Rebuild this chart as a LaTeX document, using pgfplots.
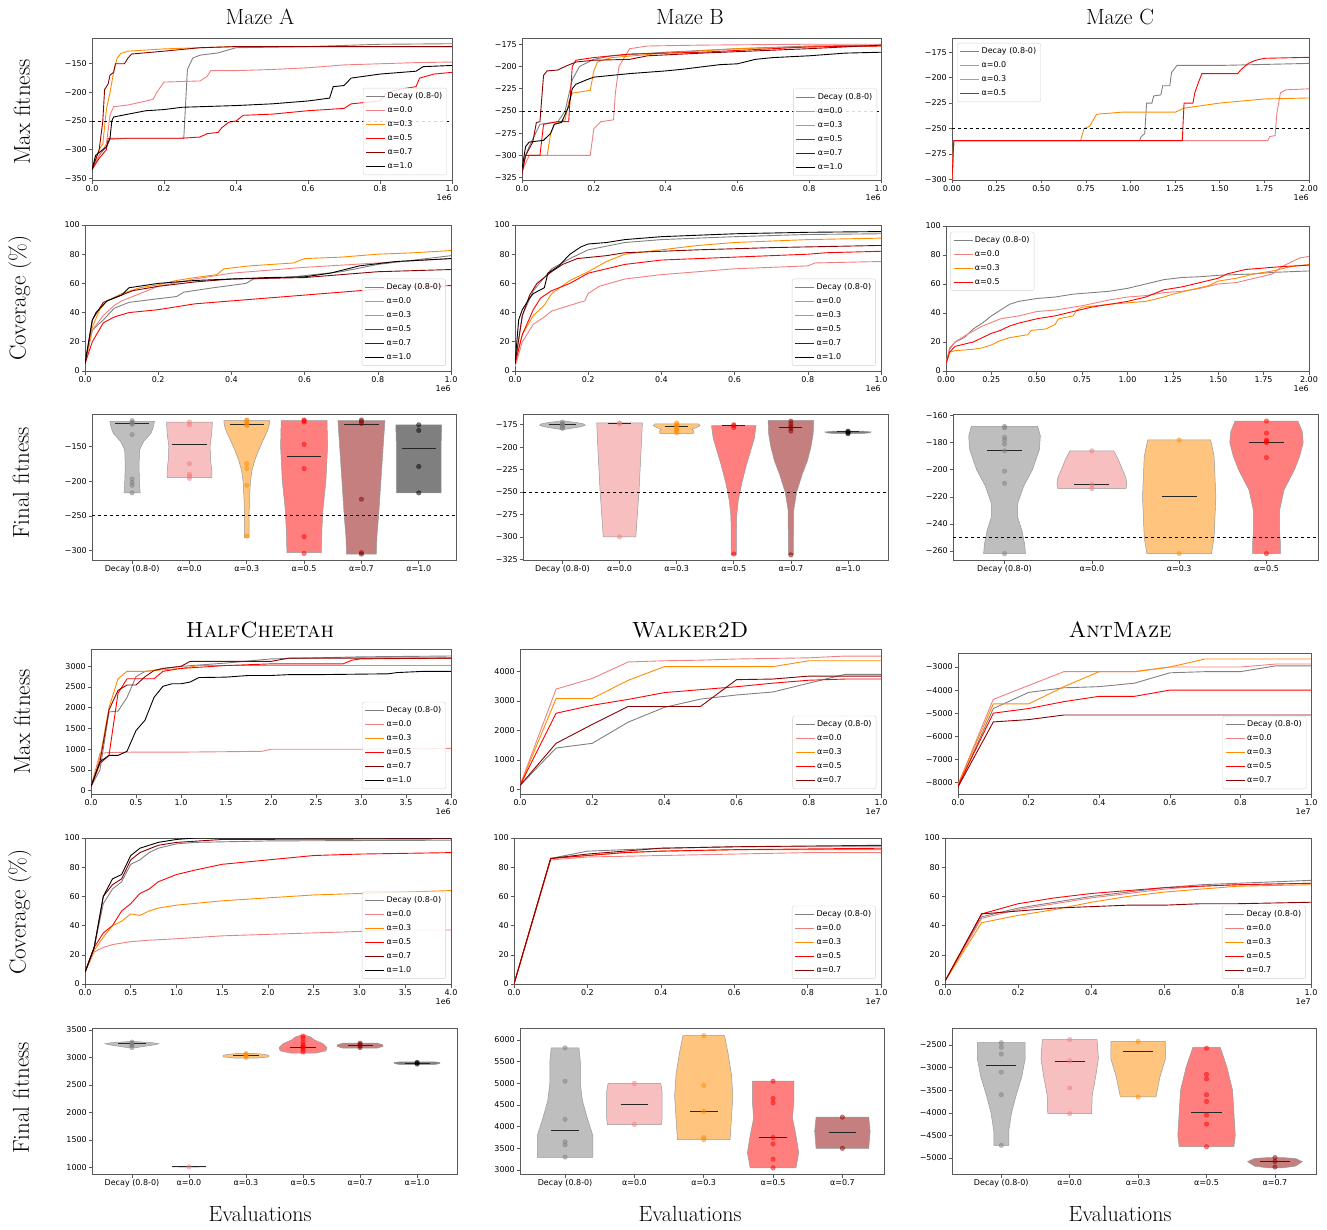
\documentclass[border=0pt]{standalone}
\usepackage{fontspec}
\usepackage{pgfplots}
\pgfplotsset{compat=1.18}
\newfontfamily\djv{DejaVu Sans}
\newcommand\tf{\djv\fontsize{8}{9.6}\selectfont}
\newcommand\ttl{\fontsize{22}{26}\selectfont}
\newcommand\ylab{\fontsize{23}{27}\selectfont}
\definecolor{cdec}{HTML}{808080}
\definecolor{ca0}{HTML}{F08080}
\definecolor{ca3}{HTML}{FF8C00}
\definecolor{ca5}{HTML}{FF0000}
\definecolor{ca7}{HTML}{8B0000}
\definecolor{ca10}{HTML}{000000}
\definecolor{vdec}{HTML}{BEBEBE}
\definecolor{va0}{HTML}{F7BFBF}
\definecolor{va3}{HTML}{FFC57F}
\definecolor{va5}{HTML}{FF7F7F}
\definecolor{va7}{HTML}{C57F7F}
\definecolor{va10}{HTML}{7F7F7F}
\pgfplotsset{
  base/.style={scale only axis, anchor=north west, tick align=outside, clip mode=individual,
    xtick pos=bottom, ytick pos=left, major tick length=3.5pt,
    axis line style={black!65, line width=0.6pt}, tick style={black!65, line width=0.6pt},
    ticklabel style={font=\tf}, xticklabel style={inner sep=1.5pt}, yticklabel style={inner sep=1.5pt},
    legend cell align=left,
    legend style={font=\tf, draw=black!18, rounded corners=2pt, fill=white, fill opacity=0.85, text opacity=1, inner sep=2.5pt, row sep=2.6pt},
    legend image code/.code={\draw[##1, opacity=1] (0pt,0pt) -- (19pt,0pt);}},
  sDec/.style={color=cdec, line width=0.9pt},
  sA0/.style={color=ca0, line width=0.9pt},
  sA3/.style={color=ca3, line width=0.9pt},
  sA5/.style={color=ca5, line width=0.9pt},
  sA7/.style={color=ca7, line width=0.9pt},
  sA10/.style={color=ca10, line width=0.9pt},
  thr/.style={black, dashed, line width=0.8pt, forget plot},
}
% #1 center, #2 fill colour, #3 closed outline rows (y d), d = offset from center
\newcommand{\violin}[3]{\addplot[fill=#2, draw=black!40, line width=0.5pt, forget plot] table[row sep=\\, x expr={#1+(\thisrow{d})}, y=y]{y d\\ #3};}
% #1 center, #2 half width, #3 median
\newcommand{\med}[3]{\addplot[black!85, line width=1pt, forget plot] table[row sep=\\, x expr={#1+(\thisrow{d})}, y expr={#3}]{d\\ -#2\\ #2\\};}
% #1 colour, #2 coordinates
\newcommand{\pts}[2]{\addplot[only marks, mark=*, mark size=2.3pt, color=#1, opacity=0.5, forget plot] coordinates {#2};}
\newcommand{\expo}[1]{\node[anchor=north east, font=\tf, inner sep=0pt, yshift=-14pt] at (rel axis cs:1,0) {#1};}
\begin{document}
\begin{tikzpicture}
\path[use as bounding box] (0pt,0pt) rectangle (1327pt,-1230pt);
% ---------- titles and labels
\node[font=\ttl] at (260pt,-17pt) {Maze A};
\node[font=\ttl] at (690pt,-17pt) {Maze B};
\node[font=\ttl] at (1120pt,-17pt) {Maze C};
\node[font=\ttl] at (260pt,-630pt) {\textsc{HalfCheetah}};
\node[font=\ttl] at (690pt,-630pt) {\textsc{Walker2D}};
\node[font=\ttl] at (1120pt,-630pt) {\textsc{AntMaze}};
\node[font=\ttl] at (260pt,-1214pt) {Evaluations};
\node[font=\ttl] at (690pt,-1214pt) {Evaluations};
\node[font=\ttl] at (1120pt,-1214pt) {Evaluations};
\node[font=\ylab, rotate=90] at (22pt,-112pt) {Max fitness};
\node[font=\ylab, rotate=90] at (20pt,-298pt) {Coverage (\%)};
\node[font=\ylab, rotate=90] at (21pt,-483pt) {Final fitness};
\node[font=\ylab, rotate=90] at (22pt,-722pt) {Max fitness};
\node[font=\ylab, rotate=90] at (20pt,-912pt) {Coverage (\%)};
\node[font=\ylab, rotate=90] at (21pt,-1098pt) {Final fitness};

% ================= Row 1: Max fitness mazes
\begin{axis}[base, at={(92pt,-38pt)}, width=360pt, height=142pt,
  xmin=0, xmax=1, ymin=-353, ymax=-105,
  xtick={0,0.2,0.4,0.6,0.8,1}, xticklabels={0.0,0.2,0.4,0.6,0.8,1.0},
  ytick={-350,-300,-250,-200,-150}, yticklabels={−350,−300,−250,−200,−150},
  legend style={at={(0.986,0.035)}, anchor=south east}]
\addplot[sDec] coordinates {(0,-335)(0.02,-310)(0.04,-295)(0.05,-282)(0.1,-280)(0.255,-280)(0.26,-220)(0.265,-160)(0.28,-140)(0.3,-135)(0.35,-131)(0.4,-122)(0.6,-120)(0.8,-116)(1,-115)};
\addlegendentry{Decay (0.8-0)}
\addplot[sA0] coordinates {(0,-335)(0.02,-310)(0.04,-290)(0.05,-240)(0.06,-225)(0.1,-222)(0.15,-215)(0.17,-212)(0.18,-200)(0.2,-182)(0.3,-180)(0.32,-172)(0.33,-162)(0.4,-162)(0.5,-160)(0.6,-157)(0.7,-152)(0.8,-150)(0.9,-148)(1,-147)};
\addlegendentry{α=0.0}
\addplot[sA3] coordinates {(0,-335)(0.02,-300)(0.03,-290)(0.04,-230)(0.05,-200)(0.06,-165)(0.07,-140)(0.08,-132)(0.1,-128)(0.2,-124)(0.3,-122)(0.4,-120)(1,-120)};
\addlegendentry{α=0.3}
\addplot[sA5] coordinates {(0,-335)(0.02,-315)(0.04,-300)(0.045,-280)(0.25,-280)(0.3,-278)(0.32,-272)(0.35,-270)(0.36,-262)(0.38,-252)(0.4,-250)(0.42,-240)(0.5,-238)(0.55,-235)(0.6,-232)(0.7,-228)(0.72,-220)(0.8,-215)(0.82,-200)(0.85,-195)(0.9,-190)(0.91,-175)(0.95,-168)(1,-165)};
\addlegendentry{α=0.5}
\addplot[sA7] coordinates {(0,-335)(0.02,-300)(0.03,-250)(0.035,-195)(0.045,-185)(0.05,-170)(0.06,-165)(0.065,-150)(0.09,-150)(0.1,-140)(0.11,-133)(0.2,-128)(0.3,-122)(0.4,-120)(1,-120)};
\addlegendentry{α=0.7}
\addplot[sA10] coordinates {(0,-335)(0.01,-310)(0.03,-300)(0.04,-295)(0.05,-280)(0.055,-250)(0.06,-243)(0.1,-238)(0.15,-232)(0.2,-230)(0.25,-226)(0.4,-223)(0.5,-220)(0.6,-215)(0.66,-210)(0.67,-190)(0.7,-188)(0.72,-175)(0.8,-168)(0.9,-163)(0.92,-155)(1,-153)};
\addlegendentry{α=1.0}
\addplot[thr] coordinates {(0,-250)(1,-250)};
\expo{1e6}
\end{axis}

\begin{axis}[base, at={(522pt,-38pt)}, width=359pt, height=142pt,
  xmin=0, xmax=1, ymin=-327.6, ymax=-168,
  xtick={0,0.2,0.4,0.6,0.8,1}, xticklabels={0.0,0.2,0.4,0.6,0.8,1.0},
  ytick={-325,-300,-275,-250,-225,-200,-175}, yticklabels={−325,−300,−275,−250,−225,−200,−175},
  legend style={at={(0.989,0.03)}, anchor=south east}]
\addplot[sDec] coordinates {(0,-310)(0.02,-290)(0.05,-265)(0.1,-262)(0.12,-250)(0.14,-215)(0.16,-200)(0.2,-192)(0.25,-188)(0.4,-184)(0.6,-180)(0.8,-177)(1,-176)};
\addlegendentry{Decay (0.8-0)}
\addplot[sA0] coordinates {(0,-318)(0.02,-300)(0.19,-300)(0.2,-270)(0.22,-262)(0.255,-260)(0.26,-230)(0.27,-200)(0.3,-180)(0.35,-177)(0.5,-176)(0.8,-175)(1,-175)};
\addlegendentry{α=0.0}
\addplot[sA3] coordinates {(0,-315)(0.01,-300)(0.07,-300)(0.08,-275)(0.09,-265)(0.12,-260)(0.13,-240)(0.14,-230)(0.17,-228)(0.19,-227)(0.2,-205)(0.21,-195)(0.25,-190)(0.4,-185)(0.6,-180)(0.8,-178)(1,-177)};
\addlegendentry{α=0.3}
\addplot[sA5] coordinates {(0,-320)(0.01,-300)(0.05,-300)(0.06,-265)(0.1,-262)(0.13,-262)(0.14,-200)(0.15,-193)(0.2,-190)(0.3,-186)(0.5,-184)(0.7,-180)(0.8,-178)(1,-177)};
\addlegendentry{α=0.5}
\addplot[sA7] coordinates {(0,-320)(0.01,-300)(0.03,-285)(0.04,-263)(0.05,-262)(0.06,-210)(0.07,-205)(0.1,-204)(0.12,-200)(0.15,-195)(0.2,-193)(0.3,-192)(0.35,-188)(0.5,-185)(0.8,-180)(1,-176)};
\addlegendentry{α=0.7}
\addplot[sA10] coordinates {(0,-315)(0.01,-290)(0.02,-285)(0.06,-283)(0.08,-275)(0.09,-265)(0.11,-263)(0.13,-245)(0.14,-225)(0.15,-220)(0.18,-215)(0.2,-212)(0.25,-210)(0.3,-208)(0.4,-205)(0.45,-203)(0.55,-198)(0.6,-197)(0.65,-192)(0.7,-190)(0.8,-188)(0.9,-185)(1,-184)};
\addlegendentry{α=1.0}
\addplot[thr] coordinates {(0,-250)(1,-250)};
\expo{1e6}
\end{axis}

\begin{axis}[base, at={(952pt,-38pt)}, width=357pt, height=142pt,
  xmin=0, xmax=2, ymin=-300.7, ymax=-161,
  xtick={0,0.25,0.5,0.75,1,1.25,1.5,1.75,2}, xticklabels={0.00,0.25,0.50,0.75,1.00,1.25,1.50,1.75,2.00},
  ytick={-300,-275,-250,-225,-200,-175}, yticklabels={−300,−275,−250,−225,−200,−175},
  legend style={at={(0.014,0.965)}, anchor=north west}]
\addplot[sDec] coordinates {(0,-300)(0.01,-262)(1.05,-262)(1.06,-258)(1.08,-255)(1.09,-225)(1.12,-225)(1.13,-218)(1.17,-217)(1.18,-208)(1.22,-208)(1.23,-195)(1.26,-188)(1.5,-188)(2,-186)};
\addlegendentry{Decay (0.8-0)}
\addplot[sA0] coordinates {(0,-300)(0.01,-262)(1.77,-262)(1.78,-258)(1.81,-257)(1.82,-235)(1.84,-215)(1.87,-212)(2,-211)};
\addlegendentry{α=0.0}
\addplot[sA3] coordinates {(0,-300)(0.01,-262)(0.72,-262)(0.74,-250)(0.77,-248)(0.79,-242)(0.81,-236)(0.95,-234)(1.25,-234)(1.3,-230)(1.5,-225)(1.75,-221)(2,-220)};
\addlegendentry{α=0.3}
\addplot[sA5] coordinates {(0,-300)(0.01,-262)(1.29,-262)(1.3,-225)(1.35,-225)(1.36,-215)(1.38,-205)(1.4,-196)(1.6,-196)(1.62,-192)(1.66,-186)(1.7,-183)(1.75,-181)(2,-180)};
\addlegendentry{α=0.5}
\addplot[thr] coordinates {(0,-250)(2,-250)};
\expo{1e6}
\end{axis}

% ================= Row 2: Coverage mazes
\begin{axis}[base, at={(85pt,-225pt)}, width=366pt, height=146pt,
  xmin=0, xmax=1, ymin=0, ymax=100,
  xtick={0,0.2,0.4,0.6,0.8,1}, xticklabels={0.0,0.2,0.4,0.6,0.8,1.0},
  ytick={0,20,40,60,80,100}, yticklabels={0,20,40,60,80,100},
  legend style={at={(0.986,0.035)}, anchor=south east}]
\addplot[sDec] coordinates {(0,5)(0.02,28)(0.05,35)(0.08,43)(0.12,47)(0.2,49.5)(0.25,51)(0.27,54)(0.35,57)(0.44,60)(0.46,63)(0.55,64)(0.7,68)(0.8,73)(0.9,76)(1,79)};
\addlegendentry{Decay (0.8-0)}
\addplot[sA0] coordinates {(0,5)(0.02,28)(0.05,38)(0.08,45)(0.1,48)(0.15,53)(0.2,58)(0.3,63)(0.4,67)(0.5,69)(0.6,71)(0.8,74)(1,77)};
\addlegendentry{α=0.0}
\addplot[sA3] coordinates {(0,5)(0.02,30)(0.04,42)(0.06,48)(0.1,53)(0.15,57)(0.2,59)(0.25,62)(0.3,64)(0.36,66)(0.37,68)(0.38,70)(0.45,72)(0.57,74)(0.6,77)(0.7,78)(0.8,80)(0.9,81)(1,82.5)};
\addlegendentry{α=0.3}
\addplot[sA5] coordinates {(0,5)(0.02,20)(0.05,33)(0.08,37)(0.12,40)(0.2,42)(0.25,44)(0.3,46)(0.4,48)(0.5,50)(0.6,52)(0.7,54)(0.8,56)(0.9,57.5)(1,58.5)};
\addlegendentry{α=0.5}
\addplot[sA7] coordinates {(0,5)(0.02,35)(0.05,47)(0.1,52)(0.13,55)(0.2,58)(0.3,61)(0.4,63)(0.6,64)(0.7,66)(0.8,68)(1,69.5)};
\addlegendentry{α=0.7}
\addplot[sA10] coordinates {(0,5)(0.02,35)(0.03,40)(0.06,48)(0.1,52)(0.12,57)(0.2,60)(0.3,62)(0.4,63)(0.5,64)(0.6,64.5)(0.67,67)(0.75,72)(0.85,75)(1,77)};
\addlegendentry{α=1.0}
\expo{1e6}
\end{axis}

\begin{axis}[base, at={(515pt,-225pt)}, width=366pt, height=146pt,
  xmin=0, xmax=1, ymin=0, ymax=100,
  xtick={0,0.2,0.4,0.6,0.8,1}, xticklabels={0.0,0.2,0.4,0.6,0.8,1.0},
  ytick={0,20,40,60,80,100}, yticklabels={0,20,40,60,80,100},
  legend style={at={(0.986,0.035)}, anchor=south east}]
\addplot[sDec] coordinates {(0,5)(0.02,38)(0.05,55)(0.1,70)(0.15,77)(0.2,83)(0.3,88)(0.4,90)(0.6,92)(0.8,93.5)(1,94)};
\addlegendentry{Decay (0.8-0)}
\addplot[sA0] coordinates {(0,3)(0.02,20)(0.05,32)(0.08,37)(0.1,41)(0.15,45)(0.19,48)(0.2,53)(0.23,58)(0.3,63)(0.4,66)(0.5,68)(0.6,70)(0.8,72)(0.82,74)(1,75)};
\addlegendentry{α=0.0}
\addplot[sA3] coordinates {(0,5)(0.02,25)(0.05,38)(0.08,45)(0.1,53)(0.15,62)(0.2,68)(0.25,75)(0.3,80)(0.4,83)(0.5,86)(0.6,88)(0.8,90)(1,91)};
\addlegendentry{α=0.3}
\addplot[sA5] coordinates {(0,5)(0.02,25)(0.05,42)(0.07,50)(0.1,55)(0.15,60)(0.2,67)(0.25,70)(0.3,73)(0.4,76)(0.6,78)(0.8,80)(0.85,81)(1,82)};
\addlegendentry{α=0.5}
\addplot[sA7] coordinates {(0,5)(0.02,38)(0.04,52)(0.06,60)(0.1,68)(0.13,73)(0.15,75)(0.17,77)(0.25,79)(0.3,81)(0.5,83)(0.7,84.5)(1,86)};
\addlegendentry{α=0.7}
\addplot[sA10] coordinates {(0,5)(0.01,35)(0.02,42)(0.04,50)(0.05,53)(0.08,57)(0.09,67)(0.12,72)(0.15,80)(0.18,85)(0.2,87)(0.25,88)(0.3,90)(0.4,92)(0.6,94)(0.8,95)(1,95.5)};
\addlegendentry{α=1.0}
\expo{1e6}
\end{axis}

\begin{axis}[base, at={(946pt,-226pt)}, width=363pt, height=145pt,
  xmin=0, xmax=2, ymin=0, ymax=100,
  xtick={0,0.25,0.5,0.75,1,1.25,1.5,1.75,2}, xticklabels={0.00,0.25,0.50,0.75,1.00,1.25,1.50,1.75,2.00},
  ytick={0,20,40,60,80,100}, yticklabels={0,20,40,60,80,100},
  legend style={at={(0.012,0.96)}, anchor=north west}]
\addplot[sDec] coordinates {(0,5)(0.02,15)(0.05,20)(0.1,23)(0.15,29)(0.2,33)(0.25,38)(0.3,42)(0.35,46)(0.4,48)(0.5,50)(0.6,51)(0.7,53)(0.8,54)(0.9,55)(1,57)(1.1,60)(1.2,63)(1.3,64.5)(1.4,65)(1.5,66)(1.7,67)(1.8,68)(2,69)};
\addlegendentry{Decay (0.8-0)}
\addplot[sA0] coordinates {(0,5)(0.02,16)(0.05,20)(0.1,24)(0.2,31)(0.3,36)(0.4,38)(0.5,41)(0.6,42)(0.75,45)(0.9,49)(1,51)(1.1,52)(1.2,54)(1.3,55)(1.4,57)(1.5,60)(1.6,61)(1.7,64)(1.8,67)(1.85,72)(1.9,75)(1.95,78)(2,79)};
\addlegendentry{α=0.0}
\addplot[sA3] coordinates {(0,5)(0.02,13)(0.05,14)(0.15,15)(0.2,16)(0.25,18)(0.3,21)(0.35,23)(0.45,25)(0.47,28)(0.55,29)(0.6,32)(0.62,36)(0.7,38)(0.72,42)(0.75,44)(0.9,46)(1,47)(1.1,48)(1.2,51)(1.25,53)(1.35,56)(1.45,59)(1.5,62)(1.6,64)(1.7,67)(1.8,69)(1.9,72)(2,73.5)};
\addlegendentry{α=0.3}
\addplot[sA5] coordinates {(0,5)(0.02,13)(0.05,17)(0.15,20)(0.2,23)(0.25,26)(0.3,28)(0.35,31)(0.4,33)(0.5,36)(0.6,38)(0.7,41)(0.8,44)(0.9,46)(1,48)(1.1,51)(1.2,56)(1.3,58)(1.4,61)(1.5,64)(1.55,67)(1.65,70)(1.75,71)(1.85,72)(2,73)};
\addlegendentry{α=0.5}
\expo{1e6}
\end{axis}

% ================= Row 3: Final fitness mazes
\begin{axis}[base, at={(92pt,-414pt)}, width=364pt, height=146pt,
  xmin=-0.7, xmax=5.65, ymin=-313.5, ymax=-103.4,
  xtick={0,1,2,3,4,5}, xticklabels={Decay (0.8-0),α=0.0,α=0.3,α=0.5,α=0.7,α=1.0},
  ytick={-300,-250,-200,-150}, yticklabels={−300,−250,−200,−150}]
\violin{0}{vdec}{-114 -0.39\\ -122 -0.37\\ -131 -0.33\\ -143 -0.2\\ -155 -0.13\\ -179 -0.12\\ -203 -0.13\\ -217 -0.14\\ -217 0.14\\ -203 0.13\\ -179 0.12\\ -155 0.13\\ -143 0.2\\ -131 0.33\\ -122 0.37\\ -114 0.39\\ -114 -0.39\\}
\violin{1}{va0}{-115 -0.40\\ -130 -0.39\\ -150 -0.36\\ -170 -0.37\\ -185 -0.39\\ -195 -0.39\\ -195 0.39\\ -185 0.39\\ -170 0.37\\ -150 0.36\\ -130 0.39\\ -115 0.40\\ -115 -0.40\\}
\violin{2}{va3}{-113 -0.40\\ -120 -0.39\\ -130 -0.35\\ -140 -0.29\\ -155 -0.21\\ -170 -0.14\\ -185 -0.09\\ -200 -0.065\\ -230 -0.045\\ -260 -0.04\\ -281 -0.04\\ -281 0.04\\ -260 0.04\\ -230 0.045\\ -200 0.065\\ -185 0.09\\ -170 0.14\\ -155 0.21\\ -140 0.29\\ -130 0.35\\ -120 0.39\\ -113 0.40\\ -113 -0.40\\}
\violin{3}{va5}{-113 -0.40\\ -150 -0.41\\ -200 -0.38\\ -240 -0.33\\ -270 -0.31\\ -303 -0.3\\ -303 0.3\\ -270 0.31\\ -240 0.33\\ -200 0.38\\ -150 0.41\\ -113 0.40\\ -113 -0.40\\}
\violin{4}{va7}{-113 -0.41\\ -150 -0.38\\ -200 -0.34\\ -250 -0.3\\ -280 -0.27\\ -305 -0.26\\ -305 0.26\\ -280 0.27\\ -250 0.3\\ -200 0.34\\ -150 0.38\\ -113 0.41\\ -113 -0.41\\}
\violin{5}{va10}{-119 -0.40\\ -150 -0.39\\ -180 -0.39\\ -217 -0.39\\ -217 0.39\\ -180 0.39\\ -150 0.39\\ -119 0.40\\ -119 -0.40\\}
\addplot[thr] coordinates {(-0.7,-250)(5.65,-250)};
\med{0}{0.3}{-117}\med{1}{0.3}{-147}\med{2}{0.3}{-118}\med{3}{0.3}{-164}\med{4}{0.3}{-118}\med{5}{0.3}{-153}
\pts{cdec}{(0,-113)(0,-115)(0,-117)(0,-118)(0,-133)(0,-197)(0,-202)(0,-206)(0,-217)}
\pts{ca0}{(1,-115)(1,-119)(1,-175)(1,-190)(1,-193)(1,-196)}
\pts{ca3}{(2,-112)(2,-113)(2,-115)(2,-118)(2,-120)(2,-175)(2,-182)(2,-206)(2,-279)}
\pts{ca5}{(3,-112)(3,-113)(3,-115)(3,-147)(3,-182)(3,-280)(3,-304)}
\pts{ca7}{(4,-112)(4,-114)(4,-117)(4,-226)(4,-303)(4,-305)}
\pts{ca10}{(5,-119)(5,-127)(5,-179)(5,-217)}
\end{axis}

\begin{axis}[base, at={(523pt,-414pt)}, width=365pt, height=146pt,
  xmin=-0.69, xmax=5.7, ymin=-325.7, ymax=-163,
  xtick={0,1,2,3,4,5}, xticklabels={Decay (0.8-0),α=0.0,α=0.3,α=0.5,α=0.7,α=1.0},
  ytick={-325,-300,-275,-250,-225,-200,-175}, yticklabels={−325,−300,−275,−250,−225,−200,−175}]
\violin{0}{vdec}{-171 -0.05\\ -172.5 -0.25\\ -174 -0.37\\ -175.5 -0.4\\ -177 -0.34\\ -178.5 -0.2\\ -180 -0.05\\ -180 0.05\\ -178.5 0.2\\ -177 0.34\\ -175.5 0.4\\ -174 0.37\\ -172.5 0.25\\ -171 0.05\\ -171 -0.05\\}
\violin{1}{va0}{-173 -0.40\\ -200 -0.38\\ -250 -0.34\\ -300 -0.285\\ -300 0.285\\ -250 0.34\\ -200 0.38\\ -173 0.40\\ -173 -0.40\\}
\violin{2}{va3}{-174 -0.38\\ -176 -0.41\\ -178 -0.35\\ -180 -0.27\\ -182 -0.3\\ -184 -0.3\\ -185 -0.27\\ -185 0.27\\ -184 0.3\\ -182 0.3\\ -180 0.27\\ -178 0.35\\ -176 0.41\\ -174 0.38\\ -174 -0.38\\}
\violin{3}{va5}{-176 -0.39\\ -190 -0.36\\ -203 -0.3\\ -220 -0.22\\ -240 -0.14\\ -259 -0.08\\ -277 -0.05\\ -300 -0.045\\ -320 -0.045\\ -320 0.045\\ -300 0.045\\ -277 0.05\\ -259 0.08\\ -240 0.14\\ -220 0.22\\ -203 0.3\\ -190 0.36\\ -176 0.39\\ -176 -0.39\\}
\violin{4}{va7}{-170 -0.40\\ -185 -0.39\\ -200 -0.35\\ -215 -0.29\\ -230 -0.2\\ -250 -0.1\\ -270 -0.05\\ -300 -0.045\\ -320 -0.045\\ -320 0.045\\ -300 0.045\\ -270 0.05\\ -250 0.1\\ -230 0.2\\ -215 0.29\\ -200 0.35\\ -185 0.39\\ -170 0.40\\ -170 -0.40\\}
\violin{5}{va10}{-182 -0.25\\ -183 -0.4\\ -184 -0.38\\ -185 -0.2\\ -185 0.2\\ -184 0.38\\ -183 0.4\\ -182 0.25\\ -182 -0.25\\}
\addplot[thr] coordinates {(-0.69,-250)(5.7,-250)};
\med{0}{0.24}{-175}\med{1}{0.2}{-174}\med{2}{0.2}{-177}\med{3}{0.2}{-176}\med{4}{0.2}{-178}\med{5}{0.2}{-183}
\pts{cdec}{(0,-172)(0,-174)(0,-175)(0,-176)(0,-178)(0,-179)}
\pts{ca0}{(1,-173)(1,-174)(1,-300)}
\pts{ca3}{(2,-173)(2,-175)(2,-176)(2,-178)(2,-180)(2,-182)(2,-184)}
\pts{ca5}{(3,-175)(3,-176)(3,-178)(3,-319)}
\pts{ca7}{(4,-171)(4,-174)(4,-177)(4,-179)(4,-182)(4,-320)}
\pts{ca10}{(5,-182)(5,-183)(5,-184)(5,-185)}
\end{axis}

\begin{axis}[base, at={(953pt,-414pt)}, width=365pt, height=146pt,
  xmin=-0.59, xmax=3.59, ymin=-266.7, ymax=-158.8,
  xtick={0,1,2,3}, xticklabels={Decay (0.8-0),α=0.0,α=0.3,α=0.5},
  ytick={-260,-240,-220,-200,-180,-160}, yticklabels={−260,−240,−220,−200,−180,−160}]
\violin{0}{vdec}{-168 -0.38\\ -175 -0.41\\ -185 -0.4\\ -200 -0.32\\ -212 -0.22\\ -225 -0.15\\ -235 -0.15\\ -245 -0.2\\ -255 -0.23\\ -262 -0.24\\ -262 0.24\\ -255 0.23\\ -245 0.2\\ -235 0.15\\ -225 0.15\\ -212 0.22\\ -200 0.32\\ -185 0.4\\ -175 0.41\\ -168 0.38\\ -168 -0.38\\}
\violin{1}{va0}{-186 -0.25\\ -192 -0.3\\ -200 -0.35\\ -206 -0.39\\ -210 -0.4\\ -214 -0.39\\ -214 0.39\\ -210 0.4\\ -206 0.39\\ -200 0.35\\ -192 0.3\\ -186 0.25\\ -186 -0.25\\}
\violin{2}{va3}{-178 -0.36\\ -190 -0.4\\ -220 -0.42\\ -250 -0.4\\ -262 -0.37\\ -262 0.37\\ -250 0.4\\ -220 0.42\\ -190 0.4\\ -178 0.36\\ -178 -0.36\\}
\violin{3}{va5}{-164 -0.36\\ -172 -0.41\\ -180 -0.42\\ -190 -0.38\\ -200 -0.32\\ -215 -0.2\\ -230 -0.15\\ -245 -0.15\\ -255 -0.16\\ -262 -0.16\\ -262 0.16\\ -255 0.16\\ -245 0.15\\ -230 0.15\\ -215 0.2\\ -200 0.32\\ -190 0.38\\ -180 0.42\\ -172 0.41\\ -164 0.36\\ -164 -0.36\\}
\addplot[thr] coordinates {(-0.59,-250)(3.59,-250)};
\med{0}{0.2}{-186}\med{1}{0.2}{-211}\med{2}{0.2}{-220}\med{3}{0.2}{-180}
\pts{cdec}{(0,-168)(0,-169)(0,-176)(0,-178)(0,-181)(0,-186)(0,-201)(0,-210)(0,-262)}
\pts{ca0}{(1,-186)(1,-211)(1,-214)}
\pts{ca3}{(2,-178)(2,-262)}
\pts{ca5}{(3,-164)(3,-173)(3,-178)(3,-179)(3,-180)(3,-191)(3,-262)}
\end{axis}

% ================= Row 4: Max fitness robotics
\begin{axis}[base, at={(91pt,-649pt)}, width=360pt, height=145pt,
  xmin=0, xmax=4, ymin=-81, ymax=3419,
  xtick={0,0.5,1,1.5,2,2.5,3,3.5,4}, xticklabels={0.0,0.5,1.0,1.5,2.0,2.5,3.0,3.5,4.0},
  ytick={0,500,1000,1500,2000,2500,3000}, yticklabels={0,500,1000,1500,2000,2500,3000},
  legend style={at={(0.986,0.035)}, anchor=south east}]
\addplot[sDec] coordinates {(0,100)(0.1,500)(0.2,1900)(0.3,1920)(0.4,2250)(0.5,2750)(0.6,2880)(0.7,2900)(0.8,2950)(1,3000)(1.5,3080)(2,3180)(3,3230)(4,3250)};
\addlegendentry{Decay (0.8-0)}
\addplot[sA0] coordinates {(0,100)(0.1,900)(0.2,920)(0.5,930)(1,930)(1.5,940)(1.9,950)(2,1000)(3,1000)(4,1020)};
\addlegendentry{α=0.0}
\addplot[sA3] coordinates {(0,100)(0.1,800)(0.2,2000)(0.3,2700)(0.4,2880)(0.6,2880)(0.7,2900)(1,2950)(1.2,3020)(4,3020)};
\addlegendentry{α=0.3}
\addplot[sA5] coordinates {(0,100)(0.1,650)(0.2,850)(0.3,2350)(0.4,2700)(0.5,2700)(0.7,2700)(0.8,2880)(1,2950)(1.5,3020)(2,3060)(2.8,3060)(2.9,3150)(3,3180)(4,3200)};
\addlegendentry{α=0.5}
\addplot[sA7] coordinates {(0,100)(0.1,700)(0.2,1950)(0.3,2420)(0.4,2550)(0.5,2550)(0.6,2750)(0.7,2900)(0.8,2950)(1,3000)(1.1,3120)(2,3120)(2.2,3200)(4,3200)};
\addlegendentry{α=0.7}
\addplot[sA10] coordinates {(0,100)(0.1,700)(0.2,850)(0.3,850)(0.4,950)(0.5,1450)(0.6,1700)(0.7,2250)(0.8,2520)(0.9,2580)(1,2580)(1.1,2620)(1.2,2730)(1.5,2740)(1.75,2780)(2,2780)(2.2,2800)(2.5,2800)(3.3,2820)(3.4,2850)(3.7,2880)(4,2880)};
\addlegendentry{α=1.0}
\expo{1e6}
\end{axis}

\begin{axis}[base, at={(520pt,-649pt)}, width=361pt, height=145pt,
  xmin=0, xmax=1, ymin=-159, ymax=4759,
  xtick={0,0.2,0.4,0.6,0.8,1}, xticklabels={0.0,0.2,0.4,0.6,0.8,1.0},
  ytick={0,1000,2000,3000,4000}, yticklabels={0,1000,2000,3000,4000},
  legend style={at={(0.987,0.035)}, anchor=south east}]
\addplot[sDec] coordinates {(0,130)(0.1,1400)(0.2,1560)(0.3,2280)(0.4,2780)(0.5,3060)(0.6,3200)(0.7,3300)(0.8,3600)(0.9,3900)(1,3900)};
\addlegendentry{Decay (0.8-0)}
\addplot[sA0] coordinates {(0,130)(0.1,3400)(0.2,3760)(0.3,4320)(0.4,4360)(0.5,4380)(0.6,4420)(0.7,4440)(0.8,4460)(0.9,4520)(1,4520)};
\addlegendentry{α=0.0}
\addplot[sA3] coordinates {(0,130)(0.1,3080)(0.2,3080)(0.3,3700)(0.4,4160)(0.5,4160)(0.6,4160)(0.7,4160)(0.8,4360)(0.9,4360)(1,4360)};
\addlegendentry{α=0.3}
\addplot[sA5] coordinates {(0,130)(0.1,2580)(0.2,2850)(0.3,3050)(0.4,3280)(0.5,3380)(0.6,3480)(0.7,3600)(0.8,3700)(0.9,3740)(1,3740)};
\addlegendentry{α=0.5}
\addplot[sA7] coordinates {(0,130)(0.1,1560)(0.2,2200)(0.3,2810)(0.4,2810)(0.5,2810)(0.6,3720)(0.7,3740)(0.8,3840)(0.9,3840)(1,3840)};
\addlegendentry{α=0.7}
\expo{1e7}
\end{axis}

\begin{axis}[base, at={(958pt,-653pt)}, width=353pt, height=141pt,
  xmin=0, xmax=1, ymin=-8507, ymax=-2391,
  xtick={0,0.2,0.4,0.6,0.8,1}, xticklabels={0.0,0.2,0.4,0.6,0.8,1.0},
  ytick={-8000,-7000,-6000,-5000,-4000,-3000}, yticklabels={−8000,−7000,−6000,−5000,−4000,−3000},
  legend style={at={(0.987,0.035)}, anchor=south east}]
\addplot[sDec] coordinates {(0,-8200)(0.1,-4800)(0.2,-4100)(0.3,-3900)(0.4,-3850)(0.5,-3700)(0.6,-3250)(0.7,-3200)(0.8,-3200)(0.9,-2950)(1,-2950)};
\addlegendentry{Decay (0.8-0)}
\addplot[sA0] coordinates {(0,-8100)(0.1,-4400)(0.2,-3800)(0.3,-3200)(0.4,-3200)(0.5,-3200)(0.6,-3000)(0.7,-3000)(0.8,-3000)(0.9,-2870)(1,-2870)};
\addlegendentry{α=0.0}
\addplot[sA3] coordinates {(0,-8100)(0.1,-4600)(0.2,-4600)(0.3,-3850)(0.4,-3200)(0.5,-3200)(0.6,-3000)(0.7,-2650)(0.8,-2650)(0.9,-2650)(1,-2650)};
\addlegendentry{α=0.3}
\addplot[sA5] coordinates {(0,-8150)(0.1,-5000)(0.2,-4800)(0.3,-4500)(0.4,-4270)(0.5,-4270)(0.6,-4000)(0.7,-4000)(1,-4000)};
\addlegendentry{α=0.5}
\addplot[sA7] coordinates {(0,-8200)(0.1,-5380)(0.2,-5280)(0.3,-5080)(1,-5080)};
\addlegendentry{α=0.7}
\expo{1e7}
\end{axis}

% ================= Row 5: Coverage robotics
\begin{axis}[base, at={(85pt,-838pt)}, width=366pt, height=146pt,
  xmin=0, xmax=4, ymin=0, ymax=100,
  xtick={0,0.5,1,1.5,2,2.5,3,3.5,4}, xticklabels={0.0,0.5,1.0,1.5,2.0,2.5,3.0,3.5,4.0},
  ytick={0,20,40,60,80,100}, yticklabels={0,20,40,60,80,100},
  legend style={at={(0.986,0.035)}, anchor=south east}]
\addplot[sDec] coordinates {(0,8)(0.1,25)(0.2,55)(0.3,65)(0.4,70)(0.5,82)(0.6,85)(0.7,90)(0.8,93)(1,96)(1.2,97)(2,98)(4,98.5)};
\addlegendentry{Decay (0.8-0)}
\addplot[sA0] coordinates {(0,8)(0.1,22)(0.2,25)(0.3,27)(0.4,28)(0.5,29)(0.7,30)(1,31)(1.5,33)(2,34)(2.5,35)(3,36)(3.5,37)(4,37)};
\addlegendentry{α=0.0}
\addplot[sA3] coordinates {(0,8)(0.1,23)(0.2,32)(0.3,40)(0.4,43)(0.5,48)(0.6,47)(0.7,50)(0.8,52)(1,54)(1.5,57)(2,59)(2.5,61)(3,62)(3.5,63)(4,64)};
\addlegendentry{α=0.3}
\addplot[sA5] coordinates {(0,8)(0.1,25)(0.2,35)(0.3,40)(0.4,50)(0.5,55)(0.6,62)(0.7,65)(0.8,70)(1,75)(1.2,78)(1.5,82)(2,85)(2.5,88)(3,89)(4,90)};
\addlegendentry{α=0.5}
\addplot[sA7] coordinates {(0,8)(0.1,25)(0.2,60)(0.3,68)(0.4,72)(0.5,85)(0.6,90)(0.8,95)(1,97)(1.5,99)(4,99.5)};
\addlegendentry{α=0.7}
\addplot[sA10] coordinates {(0,8)(0.1,25)(0.2,60)(0.3,72)(0.4,75)(0.5,88)(0.6,93)(0.8,97)(1,99)(1.2,100)(4,100)};
\addlegendentry{α=1.0}
\expo{1e6}
\end{axis}

\begin{axis}[base, at={(514pt,-838pt)}, width=367pt, height=146pt,
  xmin=0, xmax=1, ymin=0, ymax=100,
  xtick={0,0.2,0.4,0.6,0.8,1}, xticklabels={0.0,0.2,0.4,0.6,0.8,1.0},
  ytick={0,20,40,60,80,100}, yticklabels={0,20,40,60,80,100},
  legend style={at={(0.986,0.035)}, anchor=south east}]
\addplot[sDec] coordinates {(0,0)(0.1,86)(0.2,91)(0.3,92)(0.4,93)(0.6,94)(1,94)};
\addlegendentry{Decay (0.8-0)}
\addplot[sA0] coordinates {(0,0)(0.1,85)(0.2,87)(0.4,88)(0.6,89)(0.8,90)(1,90)};
\addlegendentry{α=0.0}
\addplot[sA3] coordinates {(0,0)(0.1,86)(0.2,88)(0.3,90)(0.4,91)(0.6,92)(1,92)};
\addlegendentry{α=0.3}
\addplot[sA5] coordinates {(0,0)(0.1,86)(0.2,88)(0.3,90)(0.4,91)(0.6,92)(1,93)};
\addlegendentry{α=0.5}
\addplot[sA7] coordinates {(0,0)(0.1,86)(0.2,89)(0.3,91)(0.4,93)(0.6,94)(1,95)};
\addlegendentry{α=0.7}
\expo{1e7}
\end{axis}

\begin{axis}[base, at={(945pt,-838pt)}, width=366pt, height=146pt,
  xmin=0, xmax=1, ymin=0, ymax=100,
  xtick={0,0.2,0.4,0.6,0.8,1}, xticklabels={0.0,0.2,0.4,0.6,0.8,1.0},
  ytick={0,20,40,60,80,100}, yticklabels={0,20,40,60,80,100},
  legend style={at={(0.986,0.035)}, anchor=south east}]
\addplot[sDec] coordinates {(0,2)(0.1,46)(0.2,52)(0.3,56)(0.4,60)(0.5,63)(0.6,66)(0.7,68)(0.8,69)(0.9,70)(1,71)};
\addlegendentry{Decay (0.8-0)}
\addplot[sA0] coordinates {(0,2)(0.1,45)(0.2,51)(0.3,55)(0.4,59)(0.5,62)(0.6,65)(0.7,67)(0.8,68)(1,69)};
\addlegendentry{α=0.0}
\addplot[sA3] coordinates {(0,2)(0.1,42)(0.2,47)(0.3,51)(0.4,56)(0.5,60)(0.6,63)(0.7,65)(0.8,67)(1,68)};
\addlegendentry{α=0.3}
\addplot[sA5] coordinates {(0,2)(0.1,48)(0.2,55)(0.3,59)(0.4,62)(0.5,64)(0.6,66)(0.7,67)(0.8,68)(1,69)};
\addlegendentry{α=0.5}
\addplot[sA7] coordinates {(0,2)(0.1,48)(0.2,50)(0.3,52)(0.4,53)(0.5,54)(0.6,54)(0.7,55)(0.8,55)(1,56)};
\addlegendentry{α=0.7}
\expo{1e7}
\end{axis}

% ================= Row 6: Final fitness robotics
\begin{axis}[base, at={(92pt,-1028pt)}, width=365pt, height=146pt,
  xmin=-0.7, xmax=5.7, ymin=880, ymax=3536,
  xtick={0,1,2,3,4,5}, xticklabels={Decay (0.8-0),α=0.0,α=0.3,α=0.5,α=0.7,α=1.0},
  ytick={1000,1500,2000,2500,3000,3500}, yticklabels={1000,1500,2000,2500,3000,3500}]
\violin{0}{vdec}{3290 -0.05\\ 3270 -0.35\\ 3250 -0.47\\ 3230 -0.4\\ 3200 -0.2\\ 3175 -0.05\\ 3175 0.05\\ 3200 0.2\\ 3230 0.4\\ 3250 0.47\\ 3270 0.35\\ 3290 0.05\\ 3290 -0.05\\}
\violin{1}{va0}{1014 -0.1\\ 1010 -0.3\\ 1006 -0.1\\ 1006 0.1\\ 1010 0.3\\ 1014 0.1\\ 1014 -0.1\\}
\violin{2}{va3}{3075 -0.1\\ 3060 -0.3\\ 3040 -0.4\\ 3010 -0.4\\ 2990 -0.2\\ 2990 0.2\\ 3010 0.4\\ 3040 0.4\\ 3060 0.3\\ 3075 0.1\\ 3075 -0.1\\}
\violin{3}{va5}{3400 -0.05\\ 3370 -0.14\\ 3320 -0.2\\ 3250 -0.35\\ 3180 -0.42\\ 3120 -0.4\\ 3080 -0.22\\ 3080 0.22\\ 3120 0.4\\ 3180 0.42\\ 3250 0.35\\ 3320 0.2\\ 3370 0.14\\ 3400 0.05\\ 3400 -0.05\\}
\violin{4}{va7}{3260 -0.3\\ 3230 -0.4\\ 3200 -0.4\\ 3170 -0.3\\ 3170 0.3\\ 3200 0.4\\ 3230 0.4\\ 3260 0.3\\ 3260 -0.3\\}
\violin{5}{va10}{2920 -0.3\\ 2910 -0.4\\ 2890 -0.4\\ 2870 -0.3\\ 2870 0.3\\ 2890 0.4\\ 2910 0.4\\ 2920 0.3\\ 2920 -0.3\\}
\med{0}{0.24}{3250}\med{1}{0.3}{1010}\med{2}{0.22}{3030}\med{3}{0.22}{3190}\med{4}{0.22}{3210}\med{5}{0.22}{2895}
\pts{cdec}{(0,3180)(0,3220)(0,3240)(0,3260)(0,3280)}
\pts{ca0}{(1,1010)}
\pts{ca3}{(2,3000)(2,3030)(2,3050)(2,3070)}
\pts{ca5}{(3,3100)(3,3150)(3,3180)(3,3200)(3,3230)(3,3280)(3,3350)(3,3390)}
\pts{ca7}{(4,3180)(4,3210)(4,3240)(4,3260)}
\pts{ca10}{(5,2880)(5,2900)(5,2910)}
\end{axis}

\begin{axis}[base, at={(520pt,-1028pt)}, width=364pt, height=146pt,
  xmin=-0.65, xmax=4.6, ymin=2908, ymax=6277,
  xtick={0,1,2,3,4}, xticklabels={Decay (0.8-0),α=0.0,α=0.3,α=0.5,α=0.7},
  ytick={3000,3500,4000,4500,5000,5500,6000}, yticklabels={3000,3500,4000,4500,5000,5500,6000}]
\violin{0}{vdec}{5820 -0.2\\ 5500 -0.22\\ 5000 -0.22\\ 4600 -0.25\\ 4200 -0.32\\ 3800 -0.4\\ 3500 -0.4\\ 3290 -0.4\\ 3290 0.4\\ 3500 0.4\\ 3800 0.4\\ 4200 0.32\\ 4600 0.25\\ 5000 0.22\\ 5500 0.22\\ 5820 0.2\\ 5820 -0.2\\}
\violin{1}{va0}{5000 -0.38\\ 4800 -0.4\\ 4500 -0.4\\ 4200 -0.4\\ 4050 -0.39\\ 4050 0.39\\ 4200 0.4\\ 4500 0.4\\ 4800 0.4\\ 5000 0.38\\ 5000 -0.38\\}
\violin{2}{va3}{6100 -0.3\\ 5700 -0.35\\ 5200 -0.4\\ 4700 -0.42\\ 4200 -0.4\\ 3700 -0.38\\ 3700 0.38\\ 4200 0.4\\ 4700 0.42\\ 5200 0.4\\ 5700 0.35\\ 6100 0.3\\ 6100 -0.3\\}
\violin{3}{va5}{5050 -0.3\\ 4600 -0.3\\ 4200 -0.28\\ 3800 -0.33\\ 3400 -0.37\\ 3050 -0.33\\ 3050 0.33\\ 3400 0.37\\ 3800 0.33\\ 4200 0.28\\ 4600 0.3\\ 5050 0.3\\ 5050 -0.3\\}
\violin{4}{va7}{4220 -0.38\\ 3900 -0.4\\ 3500 -0.38\\ 3500 0.38\\ 3900 0.4\\ 4220 0.38\\ 4220 -0.38\\}
\med{0}{0.2}{3920}\med{1}{0.2}{4520}\med{2}{0.2}{4350}\med{3}{0.2}{3750}\med{4}{0.2}{3870}
\pts{cdec}{(0,3300)(0,3580)(0,3650)(0,4170)(0,5050)(0,5820)}
\pts{ca0}{(1,4050)(1,5000)}
\pts{ca3}{(2,3700)(2,3750)(2,4350)(2,4950)(2,6100)}
\pts{ca5}{(3,3050)(3,3250)(3,3600)(3,3750)(3,4550)(3,4650)(3,5050)}
\pts{ca7}{(4,3500)(4,4220)}
\end{axis}

\begin{axis}[base, at={(952pt,-1028pt)}, width=364pt, height=146pt,
  xmin=-0.72, xmax=4.6, ymin=-5354, ymax=-2124,
  xtick={0,1,2,3,4}, xticklabels={Decay (0.8-0),α=0.0,α=0.3,α=0.5,α=0.7},
  ytick={-5000,-4500,-4000,-3500,-3000,-2500}, yticklabels={−5000,−4500,−4000,−3500,−3000,−2500}]
\violin{0}{vdec}{-2450 -0.35\\ -2800 -0.35\\ -3200 -0.3\\ -3600 -0.22\\ -4000 -0.15\\ -4400 -0.11\\ -4720 -0.11\\ -4720 0.11\\ -4400 0.11\\ -4000 0.15\\ -3600 0.22\\ -3200 0.3\\ -2800 0.35\\ -2450 0.35\\ -2450 -0.35\\}
\violin{1}{va0}{-2380 -0.4\\ -2800 -0.42\\ -3200 -0.38\\ -3600 -0.33\\ -4020 -0.32\\ -4020 0.32\\ -3600 0.33\\ -3200 0.38\\ -2800 0.42\\ -2380 0.4\\ -2380 -0.4\\}
\violin{2}{va3}{-2420 -0.4\\ -2800 -0.4\\ -3200 -0.32\\ -3500 -0.28\\ -3650 -0.26\\ -3650 0.26\\ -3500 0.28\\ -3200 0.32\\ -2800 0.4\\ -2420 0.4\\ -2420 -0.4\\}
\violin{3}{va5}{-2550 -0.2\\ -3000 -0.3\\ -3500 -0.38\\ -4000 -0.4\\ -4500 -0.42\\ -4750 -0.4\\ -4750 0.4\\ -4500 0.42\\ -4000 0.4\\ -3500 0.38\\ -3000 0.3\\ -2550 0.2\\ -2550 -0.2\\}
\violin{4}{va7}{-4990 -0.1\\ -5010 -0.3\\ -5080 -0.4\\ -5180 -0.3\\ -5220 -0.1\\ -5220 0.1\\ -5180 0.3\\ -5080 0.4\\ -5010 0.3\\ -4990 0.1\\ -4990 -0.1\\}
\med{0}{0.22}{-2950}\med{1}{0.22}{-2870}\med{2}{0.22}{-2650}\med{3}{0.22}{-4000}\med{4}{0.22}{-5080}
\pts{cdec}{(0,-2450)(0,-2550)(0,-2700)(0,-3100)(0,-3600)(0,-4720)}
\pts{ca0}{(1,-2380)(1,-2850)(1,-3450)(1,-4020)}
\pts{ca3}{(2,-2420)(2,-3650)}
\pts{ca5}{(3,-2570)(3,-3150)(3,-3250)(3,-3600)(3,-3750)(3,-4050)(3,-4250)(3,-4750)}
\pts{ca7}{(4,-4990)(4,-5080)(4,-5200)}
\end{axis}
\end{tikzpicture}
\end{document}
